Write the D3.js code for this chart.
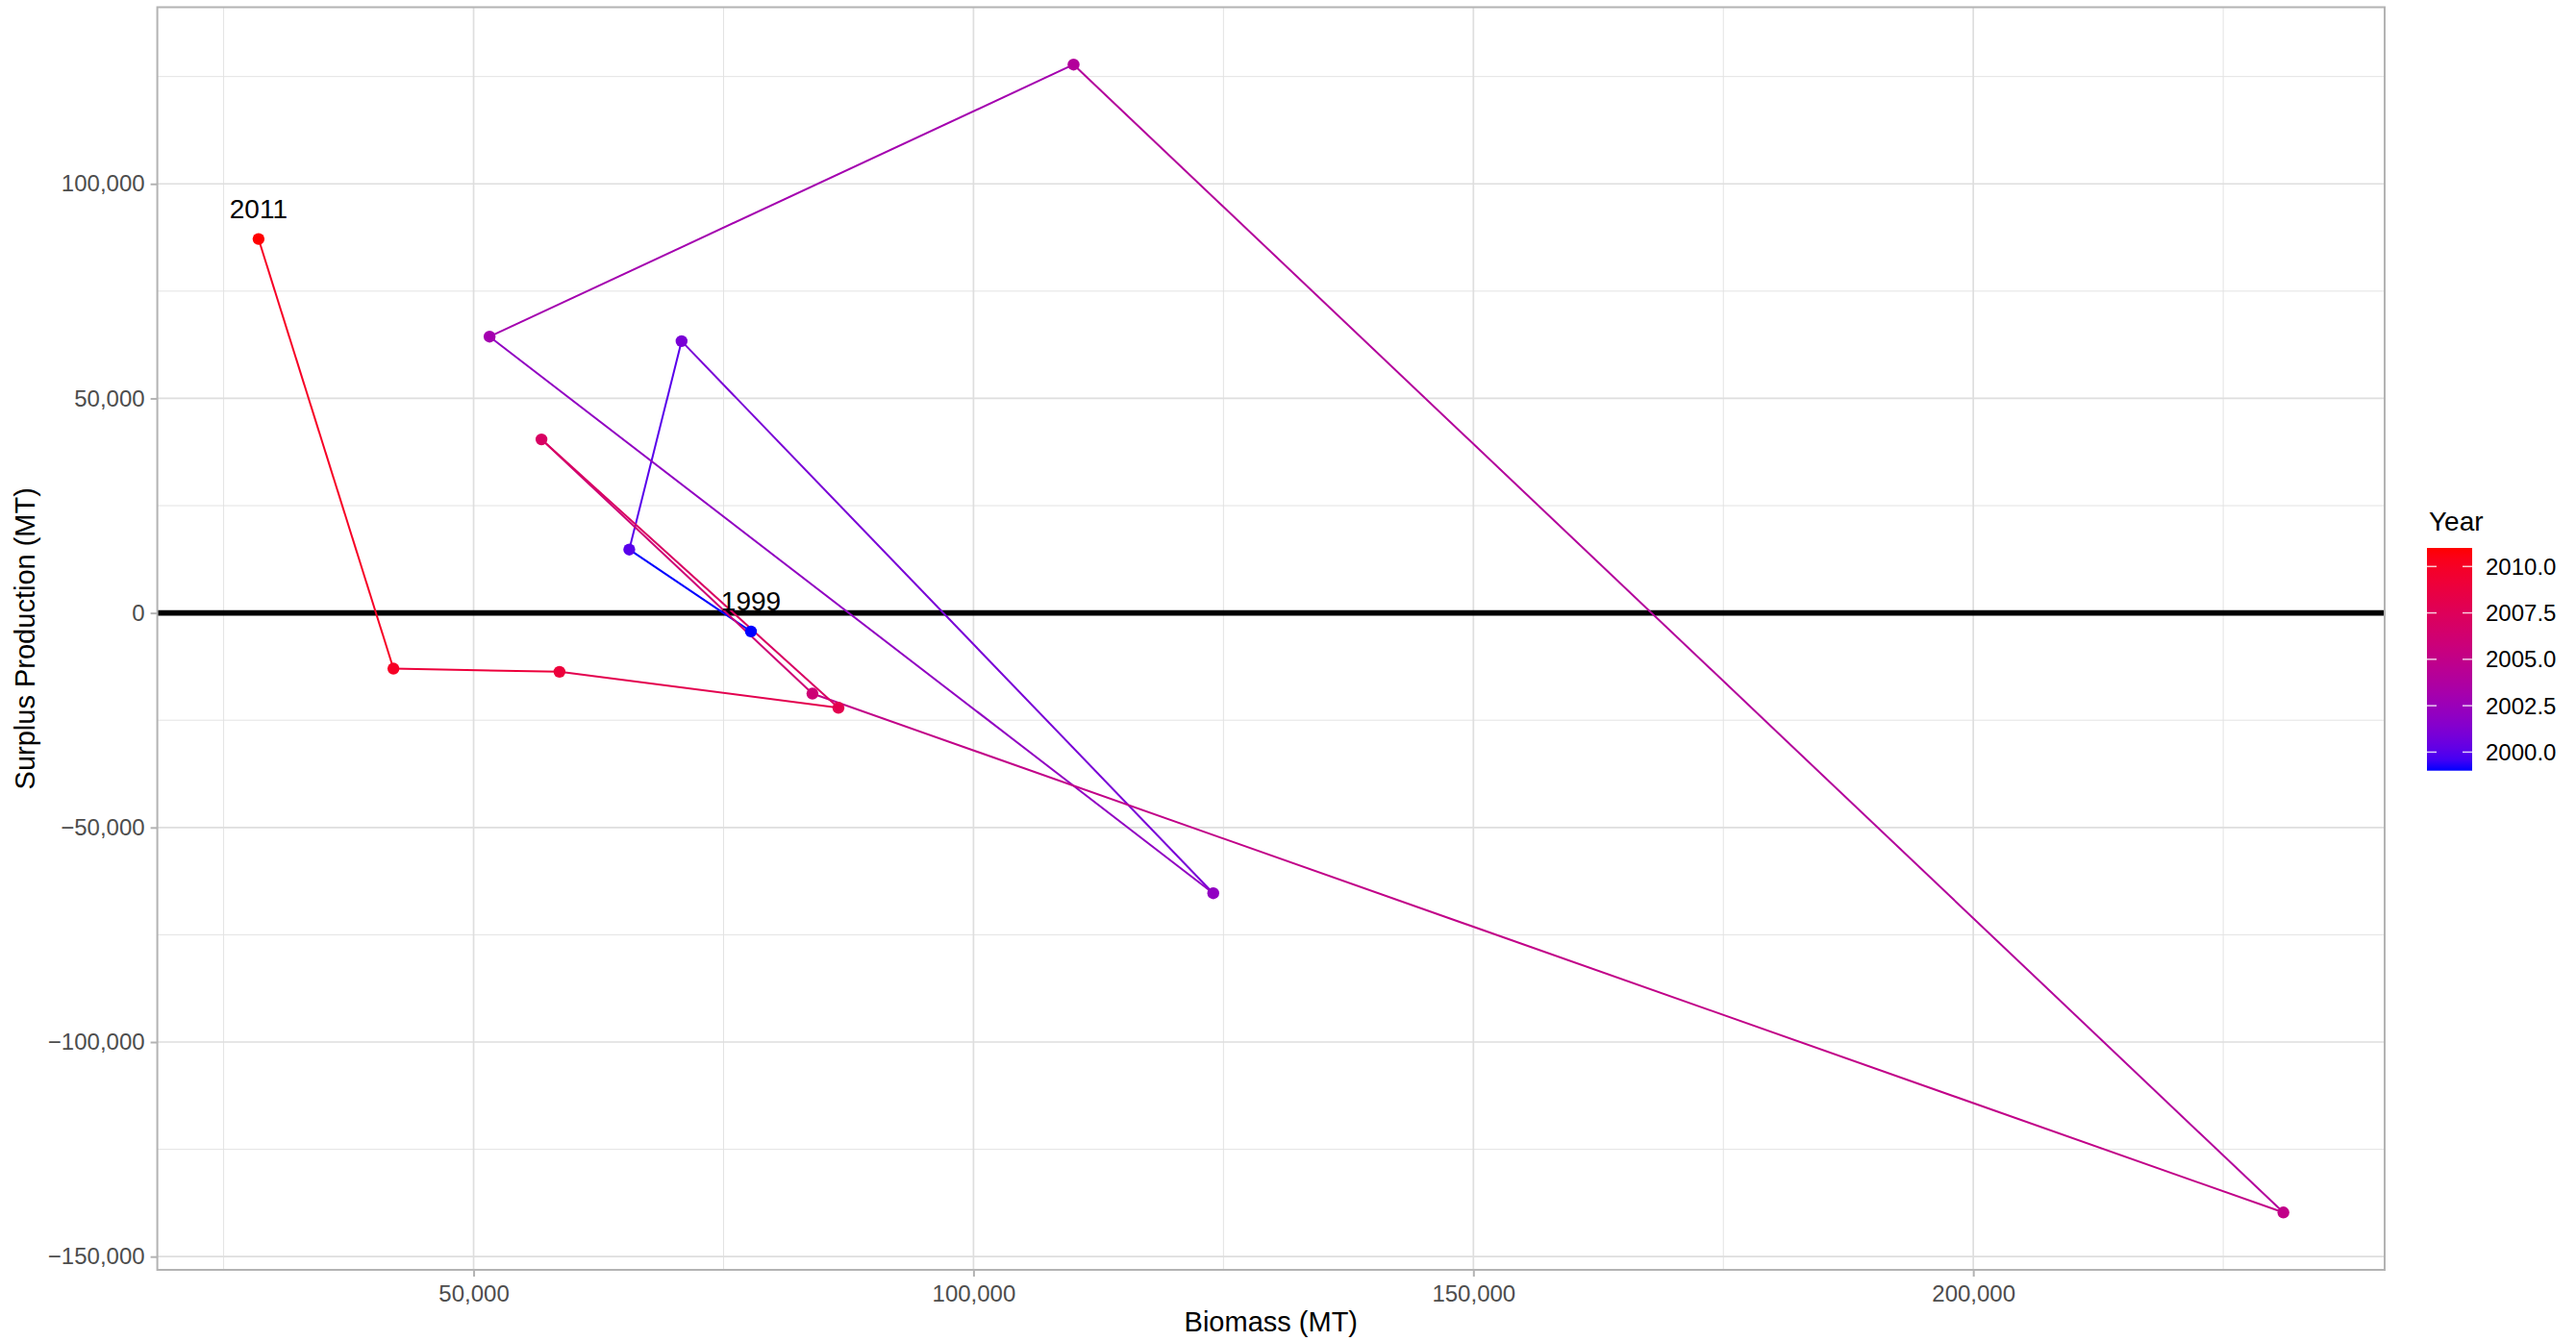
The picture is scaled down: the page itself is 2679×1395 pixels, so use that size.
<!DOCTYPE html>
<html>
<head>
<meta charset="utf-8">
<script src="https://cdn.jsdelivr.net/npm/d3@7.9.0/dist/d3.min.js"></script>
<style>
  body { margin: 0; background: #fff; }
  svg { display: block; font-family: "Liberation Sans", Arial, sans-serif; }
</style>
</head>
<body>
<svg id="chart" width="2679" height="1395"></svg>
<script>
// surplus production vs biomass, one point per year
const years   = [1999, 2000, 2001, 2002, 2003, 2004, 2005, 2006, 2007, 2008, 2009, 2010, 2011];
const biomass = [77740, 65570, 70800, 123980, 51600, 110010, 231020, 83890, 56790, 86490, 58590, 41980, 28490];
const surplus = [-4320, 14770, 63340, -65320, 64390, 127790, -139720, -18800, 40440, -22100, -13720, -12980, 87150];

const xBreaks = [50000, 100000, 150000, 200000];
const xMinor  = [25000, 75000, 125000, 175000, 225000];
const yBreaks = [-150000, -100000, -50000, 0, 50000, 100000];
const yMinor  = [-125000, -75000, -25000, 25000, 75000, 125000];
const legendBreaks = [2000, 2002.5, 2005, 2007.5, 2010];
const labelledYears = [1999, 2011];

const panel = { left: 163.6, right: 2480, top: 7.5, bottom: 1321 };

const points = years.map((year, i) => ({ year, x: biomass[i], y: surplus[i] }));

function expand(ext) {
  let pad = (ext[1] - ext[0]) * 0.05;
  return [ext[0] - pad, ext[1] + pad];
}

const x = d3.scaleLinear().domain(expand(d3.extent(biomass))).range([panel.left, panel.right]);
const y = d3.scaleLinear().domain(expand(d3.extent(surplus))).range([panel.bottom, panel.top]);
const colour = d3.scaleLinear()
  .domain(d3.extent(years))
  .range(['#0000ff', '#ff0000'])
  .interpolate(d3.interpolateLab);

const svg = d3.select('#chart');
const fmt = d3.format(',');

// grid
const grid = svg.append('g');
grid.selectAll('.vminor').data(xMinor).join('line')
  .attr('x1', d => x(d)).attr('x2', d => x(d))
  .attr('y1', panel.top).attr('y2', panel.bottom)
  .attr('stroke', '#e3e3e3').attr('stroke-width', 1);
grid.selectAll('.hminor').data(yMinor).join('line')
  .attr('x1', panel.left).attr('x2', panel.right)
  .attr('y1', d => y(d)).attr('y2', d => y(d))
  .attr('stroke', '#e3e3e3').attr('stroke-width', 1);
grid.selectAll('.vmajor').data(xBreaks).join('line')
  .attr('x1', d => x(d)).attr('x2', d => x(d))
  .attr('y1', panel.top).attr('y2', panel.bottom)
  .attr('stroke', '#dedede').attr('stroke-width', 1.7);
grid.selectAll('.hmajor').data(yBreaks).join('line')
  .attr('x1', panel.left).attr('x2', panel.right)
  .attr('y1', d => y(d)).attr('y2', d => y(d))
  .attr('stroke', '#dedede').attr('stroke-width', 1.7);

// zero line
svg.append('line')
  .attr('x1', panel.left).attr('x2', panel.right)
  .attr('y1', y(0)).attr('y2', y(0))
  .attr('stroke', '#000').attr('stroke-width', 5.7);

// path segments coloured by starting year
svg.append('g').selectAll('line')
  .data(d3.pairs(points))
  .join('line')
  .attr('x1', d => x(d[0].x)).attr('y1', d => y(d[0].y))
  .attr('x2', d => x(d[1].x)).attr('y2', d => y(d[1].y))
  .attr('stroke', d => colour(d[0].year))
  .attr('stroke-width', 2);

svg.append('g').selectAll('circle')
  .data(points)
  .join('circle')
  .attr('cx', d => x(d.x)).attr('cy', d => y(d.y))
  .attr('r', 6.2)
  .attr('fill', d => colour(d.year));

svg.append('g').selectAll('text')
  .data(points.filter(d => labelledYears.includes(d.year)))
  .join('text')
  .attr('x', d => x(d.x)).attr('y', d => y(d.y) - 22)
  .attr('text-anchor', 'middle')
  .attr('font-size', 28)
  .attr('fill', '#000')
  .text(d => d.year);

// panel border
svg.append('rect')
  .attr('x', panel.left).attr('y', panel.top)
  .attr('width', panel.right - panel.left).attr('height', panel.bottom - panel.top)
  .attr('fill', 'none').attr('stroke', '#b3b3b3').attr('stroke-width', 2);

// axes
const xAxis = svg.append('g')
  .attr('transform', `translate(0,${panel.bottom})`)
  .call(d3.axisBottom(x).tickValues(xBreaks).tickFormat(fmt).tickSize(7).tickPadding(9));
const yAxis = svg.append('g')
  .attr('transform', `translate(${panel.left},0)`)
  .call(d3.axisLeft(y).tickValues(yBreaks).tickFormat(fmt).tickSize(7).tickPadding(6));

[xAxis, yAxis].forEach(ax => {
  ax.select('.domain').remove();
  ax.selectAll('.tick line').attr('stroke', '#b3b3b3').attr('stroke-width', 2);
  ax.selectAll('.tick text')
    .attr('fill', '#4d4d4d')
    .attr('font-size', 24)
    .attr('font-family', '"Liberation Sans", Arial, sans-serif');
});

svg.append('text')
  .attr('x', (panel.left + panel.right) / 2).attr('y', 1385)
  .attr('text-anchor', 'middle').attr('font-size', 29)
  .text('Biomass (MT)');

svg.append('text')
  .attr('transform', `translate(36,${(panel.top + panel.bottom) / 2}) rotate(-90)`)
  .attr('text-anchor', 'middle').attr('font-size', 29)
  .text('Surplus Production (MT)');

// colour bar legend
const bar = { x: 2524, w: 47, top: 570, bottom: 801.7 };
const barScale = d3.scaleLinear().domain(d3.extent(years)).range([bar.bottom, bar.top]);

const grad = svg.append('defs').append('linearGradient')
  .attr('id', 'yearGrad')
  .attr('x1', 0).attr('y1', 1).attr('x2', 0).attr('y2', 0);
grad.selectAll('stop')
  .data(d3.range(0, 21).map(i => i / 20))
  .join('stop')
  .attr('offset', d => d)
  .attr('stop-color', d => colour(d3.quantile(d3.extent(years), d)));

svg.append('rect')
  .attr('x', bar.x).attr('y', bar.top)
  .attr('width', bar.w).attr('height', bar.bottom - bar.top)
  .attr('fill', 'url(#yearGrad)');

const legendTicks = svg.append('g');
legendBreaks.forEach(b => {
  let yy = barScale(b);
  legendTicks.append('line')
    .attr('x1', bar.x).attr('x2', bar.x + 10)
    .attr('y1', yy).attr('y2', yy)
    .attr('stroke', '#fff').attr('stroke-opacity', 0.8).attr('stroke-width', 1.5);
  legendTicks.append('line')
    .attr('x1', bar.x + bar.w - 10).attr('x2', bar.x + bar.w)
    .attr('y1', yy).attr('y2', yy)
    .attr('stroke', '#fff').attr('stroke-opacity', 0.8).attr('stroke-width', 1.5);
  legendTicks.append('text')
    .attr('x', 2585).attr('y', yy)
    .attr('dy', '0.36em')
    .attr('font-size', 24)
    .text(d3.format('.1f')(b));
});

svg.append('text')
  .attr('x', 2526).attr('y', 552)
  .attr('font-size', 28)
  .text('Year');
</script>
</body>
</html>
